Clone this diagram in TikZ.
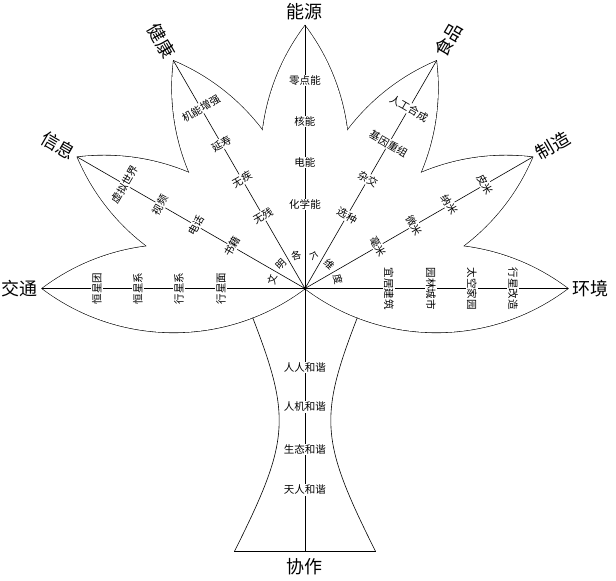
\documentclass[tikz,border=0pt]{standalone}
\usepackage{fontspec}
\setmainfont{Noto Sans CJK SC}
\begin{document}
\begin{tikzpicture}[x=1pt,y=1pt,
  lbl/.style={fill=white,inner sep=0.8pt,font=\fontsize{10.5}{11}\selectfont},
  ring/.style={inner sep=0pt,font=\fontsize{10}{11}\selectfont},
  big/.style={inner sep=0pt,font=\fontsize{18}{20}\selectfont},
  leafout/.style={line width=1.2pt},
  thin/.style={line width=0.6pt}]
\useasboundingbox (-305,-292.5) rectangle (311,288.5);
\coordinate (c) at (0,0);
% leaf outlines (union trick)
\foreach \a in {0,30,...,180}
  \draw[leafout] (0,0) arc[start angle=\a+127, end angle=\a+53, radius=218.3]
    arc[start angle=\a-53, end angle=\a-127, radius=218.3] -- cycle;
\foreach \a in {0,30,...,180}
  \fill[white] (0,0) arc[start angle=\a+127, end angle=\a+53, radius=218.3]
    arc[start angle=\a-53, end angle=\a-127, radius=218.3] -- cycle;
% trunk
\coordinate (tlA) at (-52.3,-29.2);
\coordinate (tlC) at (-70.7,-263.2);
\coordinate (trA) at (52.3,-29.2);
\coordinate (trC) at (70.7,-263.2);
\coordinate (base) at (0,-263.2);
\draw[thin] (tlA) .. controls (-13.3,-129.8) and (-15.7,-153.2) .. (tlC);
\draw[thin] (trA) .. controls (13.3,-129.8) and (15.7,-153.2) .. (trC);
\draw[thin] (tlC) -- (trC);
\draw[thin] (c) -- (base);
% axes
\foreach \a in {0,30,...,180}{
  \coordinate (t\a) at (\a:263);
  \draw[thin] (c) -- (t\a);
}
\fill (c) circle (1.6);
% axis labels
\foreach \a/\p/\q/\r/\s in {180/行星面/行星系/恒星系/恒星团,
  150/书籍/电话/视频/虚拟世界,
  120/无残/无疾/延寿/机能增强,
  90/化学能/电能/核能/零点能,
  60/选种/杂交/基因重组/人工合成,
  30/毫米/微米/纳米/皮米,
  0/宜居建筑/园林城市/太空家园/行星改造}{
  \node[lbl,rotate=\a-90] (a\a-1) at (\a:84) {\p};
  \node[lbl,rotate=\a-90] (a\a-2) at (\a:126) {\q};
  \node[lbl,rotate=\a-90] (a\a-3) at (\a:167) {\r};
  \node[lbl,rotate=\a-90] (a\a-4) at (\a:208) {\s};
}
% ring text
\foreach \a/\t [count=\i] in {165/文,135/明,105/各,75/个,45/维,15/度}
  \node[ring,rotate=\a-90] (r\i) at (\a:34) {\t};
% trunk labels
\node[lbl] (k1) at (0,-79) {人人和谐};
\node[lbl] (k2) at (0,-118.5) {人机和谐};
\node[lbl] (k3) at (0,-161) {生态和谐};
\node[lbl] (k4) at (0,-201.5) {天人和谐};
% big labels
\node[big] (n180) at (180:285) {交通};
\node[big,rotate=-30] (n150) at (150:285) {信息};
\node[big,rotate=-60] (n120) at (120:286) {健康};
\node[big] (n90) at (0,277) {能源};
\node[big,rotate=60] (n60) at (60:287) {食品};
\node[big,rotate=30] (n30) at (30:286) {制造};
\node[big] (n0) at (0:285) {环境};
\node[big] (nb) at (0,-278) {协作};
\end{tikzpicture}
\end{document}
